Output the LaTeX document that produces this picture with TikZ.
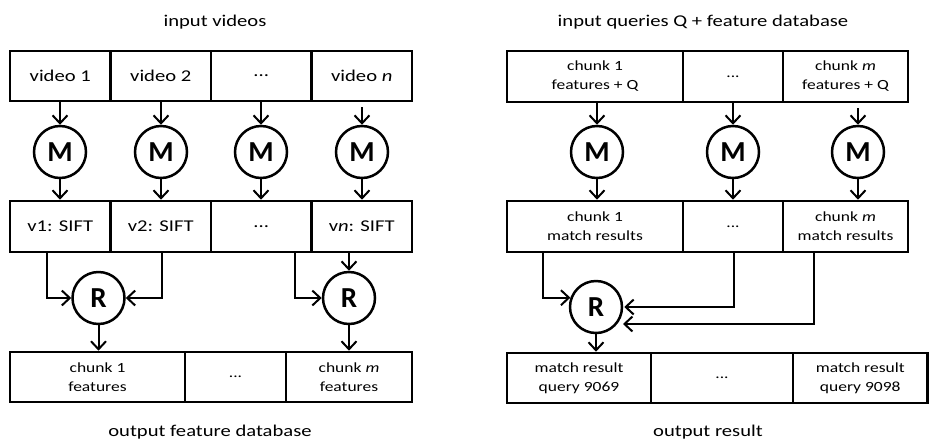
\documentclass[tikz,border=0pt]{standalone}
\usepackage{fontspec}
\setmainfont{Carlito}[FakeStretch=1.25]
\newfontfamily\circfont{Carlito Bold}
\usetikzlibrary{arrows.meta,calc}
\tikzset{
 cell/.style={draw, line width=2.6pt, inner sep=0pt, align=center, minimum height=50pt, font=\fontsize{16.5}{20}\selectfont},
 scell/.style={cell, font=\fontsize{14}{19}\selectfont},
 proc/.style={draw, circle, line width=2.5pt, minimum size=52pt, inner sep=0pt, font=\circfont\fontsize{29}{29}\selectfont},
 arr/.style={line width=2pt, -{Straight Barb[length=8pt,width=15pt]}},
 title/.style={font=\fontsize{16.5}{20}\selectfont},
}
\begin{document}
\begin{tikzpicture}[x=1pt,y=-1pt]
\useasboundingbox (0,0) rectangle (929,440);
% titles
\node[title] (t1) at (215,22) {input videos};
\node[title] (t2) at (703,22) {input queries Q + feature database};
\node[title] (t3) at (210,432) {output feature database};
\node[title] (t4) at (708,432) {output result};
% left top row
\node[cell, minimum width=100.5pt] (v1) at (60.25,76) {video 1};
\node[cell, minimum width=100.5pt] (v2) at (160.75,76) {video 2};
\node[cell, minimum width=100.5pt] (v3) at (261.25,76) {...};
\node[cell, minimum width=100.5pt] (v4) at (361.75,76) {video \textit{n}};
% left middle row
\node[cell, minimum width=100.5pt, minimum height=51pt] (s1) at (60.25,226.5) {v1: SIFT};
\node[cell, minimum width=100.5pt, minimum height=51pt] (s2) at (160.75,226.5) {v2: SIFT};
\node[cell, minimum width=100.5pt, minimum height=51pt] (s3) at (261.25,226.5) {...};
\node[cell, minimum width=100.5pt, minimum height=51pt] (s4) at (361.75,226.5) {v\textit{n}: SIFT};
% left bottom row
\node[scell, minimum width=175pt] (c1) at (97.5,377) {chunk 1\\features};
\node[scell, minimum width=101pt] (c2) at (235.5,377) {...};
\node[scell, minimum width=126pt] (c3) at (349,377) {chunk \textit{m}\\features};
% right top row
\node[scell, minimum width=176pt, minimum height=51pt] (q1) at (595,76.5) {chunk 1\\features + Q};
\node[scell, minimum width=100pt, minimum height=51pt] (q2) at (733,76.5) {...};
\node[scell, minimum width=125pt, minimum height=51pt] (q3) at (845.5,76.5) {chunk \textit{m}\\features + Q};
% right middle row
\node[scell, minimum width=176pt, minimum height=51pt] (r1) at (595,226.5) {chunk 1\\match results};
\node[scell, minimum width=100pt, minimum height=51pt] (r2) at (733,226.5) {...};
\node[scell, minimum width=125pt, minimum height=51pt] (r3) at (845.5,226.5) {chunk \textit{m}\\match results};
% right bottom row
\node[scell, minimum width=144pt] (o1) at (579,378) {match result\\query 9069};
\node[scell, minimum width=142pt] (o2) at (722,378) {...};
\node[scell, minimum width=134.5pt] (o3) at (860.25,378) {match result\\query 9098};
% map circles
\node[proc] (M1) at (60,152) {M};
\node[proc] (M2) at (161,152) {M};
\node[proc] (M3) at (261,152) {M};
\node[proc] (M4) at (362,152) {M};
\node[proc] (N1) at (597,152) {M};
\node[proc] (N2) at (733,152) {M};
\node[proc] (N3) at (858,152) {M};
% reduce circles
\node[proc] (R1) at (98.5,298) {R};
\node[proc] (R2) at (349,298) {R};
\node[proc] (Rq) at (596,307) {R};
% map arrows
\foreach \a/\m/\b in {v1/M1/s1, v2/M2/s2, v3/M3/s3, q1/N1/r1, q2/N2/r2}{
  \draw[arr] (\m |- \a.south) -- (\m.north);
  \draw[arr] (\m.south) -- (\m |- \b.north);
}
\draw[arr, shorten <=5pt] (M4 |- v4.south) -- (M4.north);
\draw[arr] (M4.south) -- (M4 |- s4.north);
\draw[arr, shorten <=5pt] (N3 |- q3.south) -- (N3.north);
\draw[arr] (N3.south) -- (N3 |- r3.north);
% left reduce arrows
\draw[arr] ([xshift=-13pt]s1.south) |- (R1.west);
\draw[arr] ([xshift=1.5pt]s2.south) |- (R1.east);
\draw[arr] ([xshift=34pt]s3.south) |- (R2.west);
\draw[arr] (R2 |- s4.south) -- (R2.north);
\draw[arr] (R1.south) -- (R1 |- c1.north);
\draw[arr] (R2.south) -- (R2 |- c3.north);
% right reduce arrows
\coordinate (rq3) at (623,324);
\draw[arr] ([xshift=-52pt]r1.south) |- (Rq.160);
\draw[arr] ([xshift=1pt]r2.south) |- ([xshift=1pt]Rq.east);
\draw[arr] ([xshift=-31.5pt]r3.south) |- (rq3);
\draw[arr] (Rq.south) -- (Rq |- o1.north);
\end{tikzpicture}
\end{document}
